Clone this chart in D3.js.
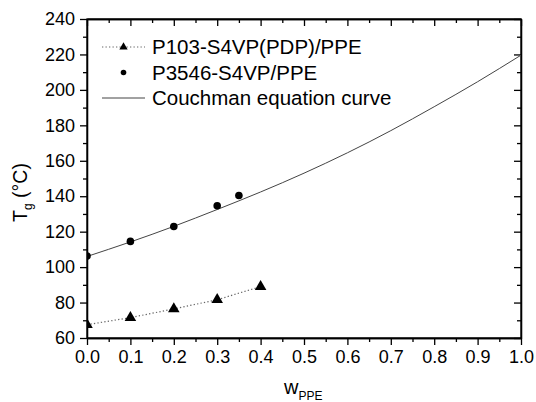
<!DOCTYPE html>
<html>
<head>
<meta charset="utf-8">
<script src="https://cdn.jsdelivr.net/npm/d3@7"></script>
<style>
	body { margin: 0; background: #fff; }
	svg { display: block; font-family: "Liberation Sans", Arial, sans-serif; }
	.axis text { font-size: 18px; fill: #000; }
	.axis line, .axis path { stroke: #000; stroke-width: 1.3; }
</style>
</head>
<body>
<script>
// weight fraction of PPE, and the measured Tg values
const wP103 = [0.0, 0.1, 0.2, 0.3, 0.4];
const tgP103 = [67.5, 71.5, 76.4, 81.6, 89.0];

const wP3546 = [0.0, 0.1, 0.2, 0.3, 0.35];
const tgP3546 = [106.2, 114.5, 122.9, 134.6, 140.4];

// Couchman curve, every 0.1
const wCurve = [0.0, 0.1, 0.2, 0.3, 0.4, 0.5, 0.6, 0.7, 0.8, 0.9, 1.0];
const tgCurve = [106, 114.2, 123.0, 132.5, 142.4, 153.0, 164.5, 177.0, 190.5, 204.6, 219.6];

const xTicks = [0, 0.1, 0.2, 0.3, 0.4, 0.5, 0.6, 0.7, 0.8, 0.9, 1.0];
const yTicks = [60, 80, 100, 120, 140, 160, 180, 200, 220, 240];

const legendNames = ['P103-S4VP(PDP)/PPE', 'P3546-S4VP/PPE', 'Couchman equation curve'];

//size of the graph and the margin
const size_graph = {x: 536, y: 402},
	margin = {top: 19, bot: 64, right: 15, left: 87},
	width = size_graph.x - margin.left - margin.right,
	height = size_graph.y - margin.top - margin.bot;

var x = d3.scaleLinear().domain([0, 1]).range([0, width]);
var y = d3.scaleLinear().domain([60, 240]).range([height, 0]);

const xMinor = d3.range(0.05, 1, 0.1);
const yMinor = d3.range(70, 240, 20);

var root = d3.select('body').append('svg')
	.attr('width', size_graph.x)
	.attr('height', size_graph.y);

var svg = root.append('g').attr('transform', `translate(${margin.left}, ${margin.top})`);

svg.append('clipPath').attr('id', 'clip')
	.append('rect').attr('width', width).attr('height', height);

//axes: outward ticks bottom/left, inward mirror ticks top/right
const fmt = d3.format('.1f');
svg.append('g').attr('class', 'axis').attr('transform', `translate(0, ${height})`)
	.call(d3.axisBottom(x).tickValues(xTicks).tickFormat(fmt).tickSize(7).tickSizeOuter(0).tickPadding(5));
svg.append('g').attr('class', 'axis').attr('transform', `translate(0, ${height})`)
	.call(d3.axisBottom(x).tickValues(xMinor).tickFormat('').tickSize(4).tickSizeOuter(0));
svg.append('g').attr('class', 'axis')
	.call(d3.axisLeft(y).tickValues(yTicks).tickSize(7).tickSizeOuter(0).tickPadding(5));
svg.append('g').attr('class', 'axis')
	.call(d3.axisLeft(y).tickValues(yMinor).tickFormat('').tickSize(4).tickSizeOuter(0));

svg.append('g').attr('class', 'axis')
	.call(d3.axisTop(x).tickValues(xTicks).tickFormat('').tickSize(-7).tickSizeOuter(0));
svg.append('g').attr('class', 'axis')
	.call(d3.axisTop(x).tickValues(xMinor).tickFormat('').tickSize(-4).tickSizeOuter(0));
svg.append('g').attr('class', 'axis').attr('transform', `translate(${width}, 0)`)
	.call(d3.axisRight(y).tickValues(yTicks).tickFormat('').tickSize(-7).tickSizeOuter(0));
svg.append('g').attr('class', 'axis').attr('transform', `translate(${width}, 0)`)
	.call(d3.axisRight(y).tickValues(yMinor).tickFormat('').tickSize(-4).tickSizeOuter(0));

svg.append('rect')
	.attr('width', width).attr('height', height)
	.attr('fill', 'none').attr('stroke', '#000').attr('stroke-width', 1.3);

//lines
const plot = svg.append('g').attr('clip-path', 'url(#clip)');
const line = d3.line().x(d => x(d[0])).y(d => y(d[1]));

plot.append('path')
	.datum(d3.zip(wCurve, tgCurve))
	.attr('d', line.curve(d3.curveNatural))
	.attr('fill', 'none').attr('stroke', '#444').attr('stroke-width', 1);

plot.append('path')
	.datum(d3.zip(wP103, tgP103))
	.attr('d', line.curve(d3.curveLinear))
	.attr('fill', 'none').attr('stroke', '#666').attr('stroke-width', 1.2)
	.attr('stroke-dasharray', '1.3,2.2');

//markers
const tri = d3.symbol().type(d3.symbolTriangle).size(58);
plot.selectAll('.tri')
	.data(d3.zip(wP103, tgP103))
	.enter()
	.append('path')
	.attr('d', tri)
	.attr('transform', d => `translate(${x(d[0])}, ${y(d[1])})`)
	.attr('fill', '#000');

plot.selectAll('.dot')
	.data(d3.zip(wP3546, tgP3546))
	.enter()
	.append('circle')
	.attr('cx', d => x(d[0]))
	.attr('cy', d => y(d[1]))
	.attr('r', 3.8)
	.attr('fill', '#000');

//legend
const lx = 102, ly = 47, step = 25.5;
const legend = root.append('g');
legend.append('line').attr('x1', lx).attr('x2', lx + 43).attr('y1', ly).attr('y2', ly)
	.attr('stroke', '#666').attr('stroke-width', 1.2).attr('stroke-dasharray', '1.3,2.2');
legend.append('path').attr('d', d3.symbol().type(d3.symbolTriangle).size(30))
	.attr('transform', `translate(${lx + 21.5}, ${ly})`).attr('fill', '#000');
legend.append('circle').attr('cx', lx + 21.5).attr('cy', ly + step).attr('r', 2.8).attr('fill', '#000');
legend.append('line').attr('x1', lx).attr('x2', lx + 43).attr('y1', ly + 2 * step).attr('y2', ly + 2 * step)
	.attr('stroke', '#444').attr('stroke-width', 1);

legend.selectAll('text')
	.data(legendNames)
	.enter()
	.append('text')
	.attr('x', 152)
	.attr('y', (d, i) => ly + i * step + 7)
	.attr('font-size', '20.5px')
	.text(d => d);

//axis titles
const yt = root.append('text')
	.attr('transform', 'translate(27, 222) rotate(-90)')
	.attr('font-size', '19.5px');
yt.append('tspan').text('T');
yt.append('tspan').attr('font-size', '12px').attr('dy', 5).text('g');
yt.append('tspan').attr('dy', -5).text(' (\u00B0C)');

const xt = root.append('text')
	.attr('x', 284).attr('y', 394)
	.attr('font-size', '20px');
xt.append('tspan').text('w');
xt.append('tspan').attr('font-size', '12px').attr('dy', 6).text('PPE');
</script>
</body>
</html>
